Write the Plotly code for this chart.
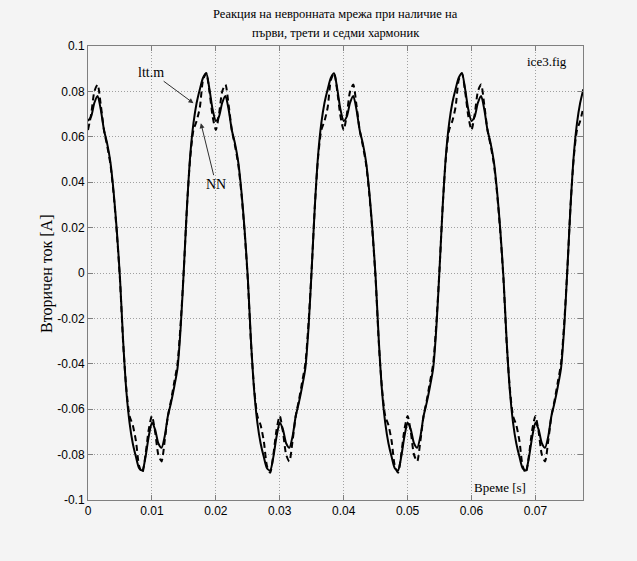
import plotly.graph_objects as go

# sampling step of the recorded signals [s]
dt = 0.0005

# ltt.m response (solid), t = 0 ... 0.0775 s
ltt_m = [
    0.067, 0.069, 0.075, 0.078, 0.072, 0.063, 0.057, 0.049, 0.036, 0.019,
    -0.002, -0.030, -0.052, -0.066, -0.075, -0.081, -0.086, -0.087, -0.081, -0.072,
    -0.066, -0.069, -0.075, -0.077, -0.072, -0.063, -0.057, -0.050, -0.042, -0.024,
    0.002, 0.030, 0.052, 0.066, 0.075, 0.081, 0.086, 0.088, 0.081, 0.072,
    0.067, 0.069, 0.075, 0.078, 0.072, 0.063, 0.057, 0.049, 0.036, 0.019,
    -0.002, -0.030, -0.052, -0.066, -0.075, -0.081, -0.086, -0.087, -0.081, -0.072,
    -0.066, -0.069, -0.075, -0.077, -0.072, -0.063, -0.057, -0.050, -0.042, -0.024,
    0.002, 0.030, 0.052, 0.066, 0.075, 0.081, 0.086, 0.088, 0.081, 0.072,
    0.067, 0.069, 0.075, 0.078, 0.072, 0.063, 0.057, 0.049, 0.036, 0.019,
    -0.002, -0.030, -0.052, -0.066, -0.075, -0.081, -0.086, -0.087, -0.081, -0.072,
    -0.066, -0.069, -0.075, -0.077, -0.072, -0.063, -0.057, -0.050, -0.042, -0.024,
    0.002, 0.030, 0.052, 0.066, 0.075, 0.081, 0.086, 0.088, 0.081, 0.072,
    0.067, 0.069, 0.075, 0.078, 0.072, 0.063, 0.057, 0.049, 0.036, 0.019,
    -0.002, -0.030, -0.052, -0.066, -0.075, -0.081, -0.086, -0.087, -0.081, -0.072,
    -0.066, -0.069, -0.075, -0.077, -0.072, -0.063, -0.057, -0.050, -0.042, -0.024,
    0.002, 0.030, 0.052, 0.066, 0.075, 0.081,
]

# neural network response (dashed)
nn = [
    0.063, 0.070, 0.080, 0.083, 0.074, 0.063, 0.056, 0.048, 0.035, 0.018,
    -0.003, -0.031, -0.051, -0.063, -0.067, -0.074, -0.085, -0.088, -0.080, -0.069,
    -0.063, -0.070, -0.080, -0.083, -0.074, -0.063, -0.056, -0.048, -0.040, -0.022,
    0.002, 0.030, 0.051, 0.063, 0.067, 0.073, 0.085, 0.088, 0.080, 0.069,
    0.063, 0.070, 0.080, 0.083, 0.074, 0.063, 0.056, 0.048, 0.035, 0.018,
    -0.003, -0.031, -0.051, -0.063, -0.067, -0.074, -0.085, -0.088, -0.080, -0.069,
    -0.063, -0.070, -0.080, -0.083, -0.074, -0.063, -0.056, -0.048, -0.040, -0.022,
    0.002, 0.030, 0.051, 0.063, 0.067, 0.073, 0.085, 0.088, 0.080, 0.069,
    0.063, 0.070, 0.080, 0.083, 0.074, 0.063, 0.056, 0.048, 0.035, 0.018,
    -0.003, -0.031, -0.051, -0.063, -0.067, -0.074, -0.085, -0.088, -0.080, -0.069,
    -0.063, -0.070, -0.080, -0.083, -0.074, -0.063, -0.056, -0.048, -0.040, -0.022,
    0.002, 0.030, 0.051, 0.063, 0.067, 0.073, 0.085, 0.088, 0.080, 0.069,
    0.063, 0.070, 0.080, 0.083, 0.074, 0.063, 0.056, 0.048, 0.035, 0.018,
    -0.003, -0.031, -0.051, -0.063, -0.067, -0.074, -0.085, -0.088, -0.080, -0.069,
    -0.063, -0.070, -0.080, -0.083, -0.074, -0.063, -0.056, -0.048, -0.040, -0.022,
    0.002, 0.030, 0.051, 0.063, 0.067, 0.073,
]

time = [i * dt for i in range(len(ltt_m))]

x_ticks = [0, 0.01, 0.02, 0.03, 0.04, 0.05, 0.06, 0.07]
x_labels = ["0", "0.01", "0.02", "0.03", "0.04", "0.05", "0.06", "0.07"]
y_ticks = [-0.1, -0.08, -0.06, -0.04, -0.02, 0, 0.02, 0.04, 0.06, 0.08, 0.1]
y_labels = ["-0.1", "-0.08", "-0.06", "-0.04", "-0.02", "0", "0.02", "0.04", "0.06", "0.08", "0.1"]

title_lines = ["Реакция на невронната мрежа при наличие на",
               "първи, трети и седми хармоник"]
y_title = "Вторичен ток [A]"
x_title = "Време [s]"

BG = "#f4f4f4"
SERIF = "Liberation Serif, Times New Roman, serif"
SANS = "Liberation Sans, Arial, sans-serif"

fig = go.Figure()
fig.add_trace(go.Scatter(x=time, y=nn, mode="lines", name="NN",
                         line=dict(color="black", width=2, dash="6px,4px",
                                   shape="spline", smoothing=0.7)))
fig.add_trace(go.Scatter(x=time, y=ltt_m, mode="lines", name="ltt.m",
                         line=dict(color="black", width=2,
                                   shape="spline", smoothing=0.7)))

axis_common = dict(
    showline=True, linecolor="#7f7f7f", linewidth=1, mirror="ticks",
    ticks="inside", ticklen=5, tickcolor="#7f7f7f",
    showgrid=True, gridcolor="#a0a0a0", griddash="1px,2px", gridwidth=1,
    zeroline=False, tickfont=dict(family=SANS, size=12, color="black"),
)

fig.update_layout(
    width=637, height=561,
    margin=dict(l=88, r=54, t=46, b=61),
    paper_bgcolor=BG, plot_bgcolor=BG,
    showlegend=False,
    xaxis=dict(range=[0, 0.07744], tickvals=x_ticks, ticktext=x_labels, **axis_common),
    yaxis=dict(range=[-0.1, 0.1], tickvals=y_ticks, ticktext=y_labels, **axis_common),
)

annots = [
    dict(text=title_lines[0], xref="paper", yref="paper", x=0.5, y=1 + 32 / 454,
         showarrow=False, xanchor="center", yanchor="middle",
         font=dict(family=SERIF, size=12.5, color="black")),
    dict(text=title_lines[1], xref="paper", yref="paper", x=0.5, y=1 + 13 / 454,
         showarrow=False, xanchor="center", yanchor="middle",
         font=dict(family=SERIF, size=12.5, color="black")),
    dict(text=y_title, xref="paper", yref="paper", x=-0.083, y=0.5,
         textangle=-90, showarrow=False, xanchor="center", yanchor="middle",
         font=dict(family=SERIF, size=16, color="black")),
    dict(text=x_title, xref="x", yref="y", x=0.0644, y=-0.0947,
         showarrow=False, xanchor="center", yanchor="middle",
         font=dict(family=SERIF, size=13, color="black")),
    dict(text="ice3.fig", xref="x", yref="y", x=0.0718, y=0.0931,
         showarrow=False, xanchor="center", yanchor="middle",
         font=dict(family=SERIF, size=13, color="black")),
    dict(text="ltt.m", xref="x", yref="y", x=0.0165, y=0.0748,
         showarrow=True, ax=-42, ay=-31, arrowhead=2, arrowsize=1,
         arrowwidth=1, arrowcolor="#303030",
         font=dict(family=SERIF, size=14, color="black")),
    dict(text="NN", xref="x", yref="y", x=0.01766, y=0.066,
         showarrow=True, ax=15, ay=61, arrowhead=2, arrowsize=1,
         arrowwidth=1, arrowcolor="#303030",
         font=dict(family=SERIF, size=14, color="black")),
]
fig.update_layout(annotations=annots)

fig.write_html("out.html")
